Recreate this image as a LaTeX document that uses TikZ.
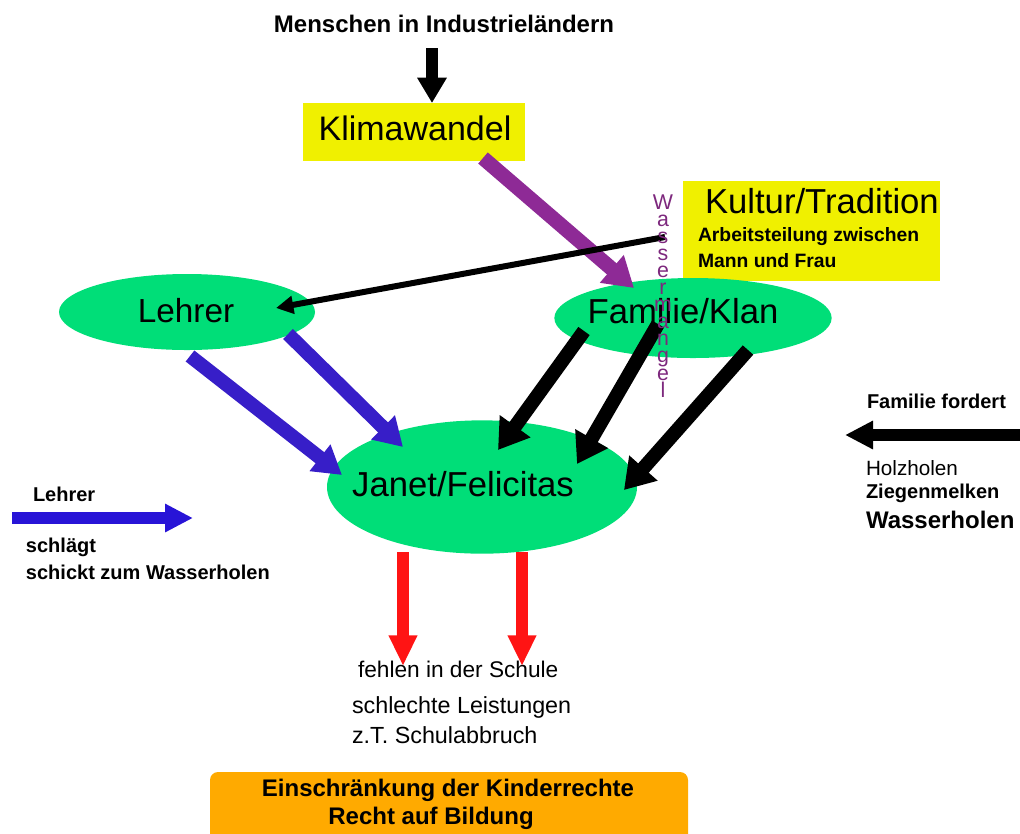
\documentclass[tikz,border=0pt]{standalone}
\usepackage{fontspec}
\setmainfont{Liberation Sans}
\usetikzlibrary{arrows.meta,shapes.geometric}
\definecolor{kgreen}{RGB}{0,222,120}
\definecolor{kyellow}{RGB}{240,240,0}
\definecolor{kpurple}{RGB}{142,42,150}
\definecolor{wmpurple}{RGB}{125,40,125}
\definecolor{kblue}{RGB}{55,30,200}
\definecolor{lblue}{RGB}{40,20,215}
\definecolor{kred}{RGB}{255,20,20}
\definecolor{korange}{RGB}{255,170,0}
\begin{document}
\begin{tikzpicture}[x=0.75pt,y=-0.75pt,
  blob/.style={ellipse,fill=kgreen,draw=none,inner sep=0},
  ybox/.style={rectangle,fill=kyellow,draw=none,inner sep=0},
  txt/.style={inner sep=0,outer sep=0,text=black},
  fatarrow/.style n args={3}{line width=#1,line cap=butt,-{Triangle[length=#2,width=#3]}},
  wm/.style={inner sep=0,text=wmpurple,text height=8pt,text depth=0pt,font=\fontsize{16pt}{16pt}\selectfont}]
\clip (0,0) rectangle (1020,833);
% boxes
\node[ybox,minimum width=166.5pt,minimum height=43.5pt] (klima) at (414,132) {};
\node[ybox,minimum width=192.75pt,minimum height=75pt] (kultur) at (811.5,231) {};
\draw[fill=korange,draw=none,rounded corners=6pt] (210,772) rectangle (688,860);
\node[inner sep=0] (orange) at (449,803) {};
% ellipses
\node[blob,minimum width=192pt,minimum height=57pt] (lehrer) at (187,312) {};
\node[blob,minimum width=208pt,minimum height=60pt] (familie) at (693,318) {};
\node[blob,minimum width=232.5pt,minimum height=100pt] (janet) at (482,487) {};
% texts
\node[txt,font=\bfseries\fontsize{18pt}{20pt}\selectfont] (menschen) at (444,24) {Menschen in Industrieländern};
\node[txt,font=\fontsize{25.5pt}{28pt}\selectfont] (klimat) at (415,128) {Klimawandel};
\node[txt,anchor=west,font=\fontsize{26pt}{28pt}\selectfont] (kulturt) at (705,201) {Kultur/Tradition};
\node[txt,anchor=west,font=\bfseries\fontsize{14.5pt}{16pt}\selectfont] (arbeit) at (698,237) {Arbeitsteilung zwischen};
\node[txt,anchor=west,font=\bfseries\fontsize{14.5pt}{16pt}\selectfont] (mann) at (698,261) {Mann und Frau};
\node[txt,font=\fontsize{25pt}{28pt}\selectfont] (lehrert) at (186,311) {Lehrer};
\node[txt,font=\fontsize{26pt}{28pt}\selectfont] (familiet) at (683,311) {Familie/Klan};
\node[txt,font=\fontsize{26pt}{28pt}\selectfont] (janett) at (463,484) {Janet/Felicitas};
% left legend
\node[txt,anchor=west,font=\bfseries\fontsize{15pt}{16pt}\selectfont] (llehrer) at (33,494) {Lehrer};
\node[txt,anchor=west,font=\bfseries\fontsize{15pt}{16pt}\selectfont] (schlaegt) at (26,547) {schlägt};
\node[txt,anchor=west,font=\bfseries\fontsize{15pt}{16pt}\selectfont] (schickt) at (26,572) {schickt zum Wasserholen};
\coordinate (lbs) at (12,518);
\coordinate (lbe) at (193,518);
% right legend
\node[txt,anchor=west,font=\bfseries\fontsize{15pt}{16pt}\selectfont] (ffordert) at (867,401) {Familie fordert};
\node[txt,anchor=west,font=\fontsize{15.5pt}{16pt}\selectfont] (holz) at (866,468) {Holzholen};
\node[txt,anchor=west,font=\bfseries\fontsize{15pt}{16pt}\selectfont] (ziegen) at (866,493) {Ziegenmelken};
\node[txt,anchor=west,font=\bfseries\fontsize{18pt}{20pt}\selectfont] (wasser) at (866,520) {Wasserholen};
\coordinate (rbs) at (1025,435);
\coordinate (rbe) at (845,435);
% bottom texts
\node[txt,anchor=west,font=\fontsize{17pt}{18pt}\selectfont] (fehlen) at (358,669) {fehlen in der Schule};
\node[txt,anchor=west,font=\fontsize{17.5pt}{18pt}\selectfont] (schlecht) at (352,707) {schlechte Leistungen};
\node[txt,anchor=west,font=\fontsize{17.5pt}{18pt}\selectfont] (abbruch) at (352,735) {z.T. Schulabbruch};
\node[txt,font=\bfseries\fontsize{18pt}{20pt}\selectfont] (einschr) at (448,790) {Einschränkung der Kinderrechte};
\node[txt,font=\bfseries\fontsize{18pt}{20pt}\selectfont] (recht) at (431,818) {Recht auf Bildung};
% connector end points
\coordinate (topS) at (432,48);
\coordinate (topE) at (432,103);
\coordinate (purS) at (483,158);
\coordinate (purE) at (634,288);
\coordinate (thinS) at (665,237);
\coordinate (thinE) at (276,308);
\coordinate (b1S) at (190,356);
\coordinate (b1E) at (342,475);
\coordinate (b2S) at (288,334);
\coordinate (b2E) at (403,447);
\coordinate (k1S) at (584,331);
\coordinate (k1E) at (498,450);
\coordinate (k2S) at (658,324);
\coordinate (k2E) at (577,464);
\coordinate (k3S) at (748,350);
\coordinate (k3E) at (624,490);
\coordinate (r1S) at (403,552);
\coordinate (r1E) at (403,666);
\coordinate (r2S) at (522,552);
\coordinate (r2E) at (522,666);
% arrows
\draw[fatarrow={9pt}{19pt}{21pt},black] (topS) -- (topE);
\draw[fatarrow={11pt}{22pt}{26pt},kpurple] (purS) -- (purE);
\draw[fatarrow={4.5pt}{13pt}{13pt},black] (thinS) -- (thinE);
\draw[fatarrow={10.5pt}{21pt}{24pt},kblue] (b1S) -- (b1E);
\draw[fatarrow={10.5pt}{21pt}{24pt},kblue] (b2S) -- (b2E);
\draw[fatarrow={10.5pt}{22pt}{27pt},black] (k1S) -- (k1E);
\draw[fatarrow={10.5pt}{22pt}{27pt},black] (k2S) -- (k2E);
\draw[fatarrow={10.5pt}{22pt}{27pt},black] (k3S) -- (k3E);
\draw[fatarrow={9pt}{23pt}{20pt},kred] (r1S) -- (r1E);
\draw[fatarrow={9pt}{23pt}{20pt},kred] (r2S) -- (r2E);
\draw[fatarrow={9pt}{21pt}{20pt},lblue] (lbs) -- (lbe);
\draw[fatarrow={9pt}{21pt}{20pt},black] (rbs) -- (rbe);
% Wassermangel vertical
\foreach \c [count=\i from 0] in {W,a,s,s,e,r,m,a,n,g,e,l}
  \node[wm,anchor=base] (wm\i) at (663,209+17.1*\i) {\c};
\end{tikzpicture}
\end{document}
